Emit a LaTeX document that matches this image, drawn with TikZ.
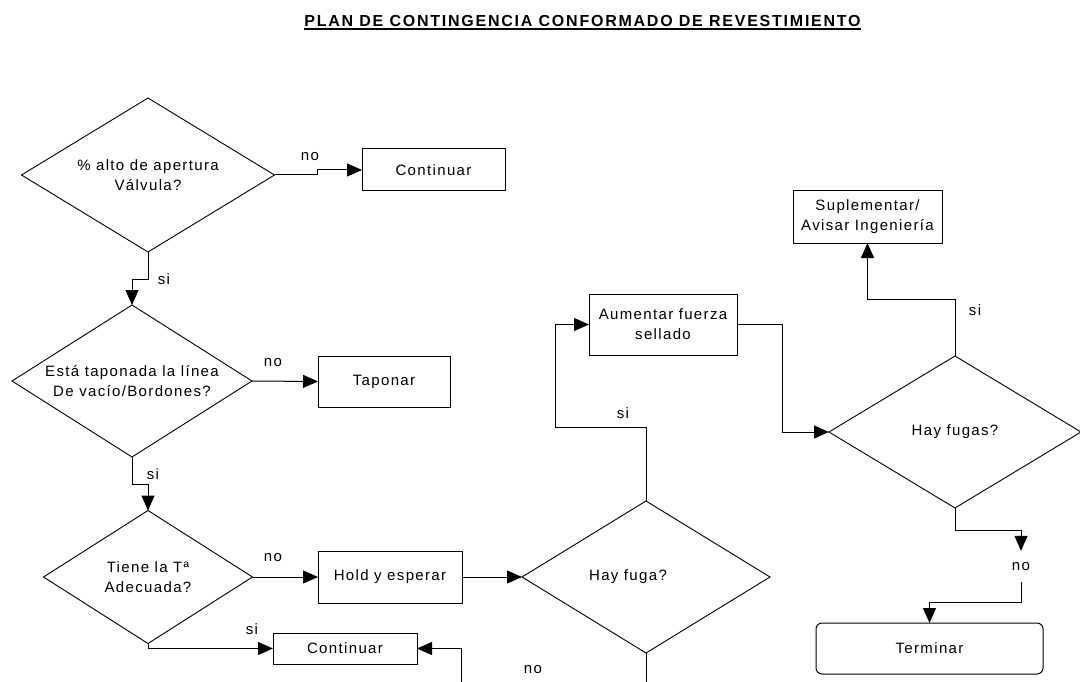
\documentclass[tikz,border=0pt]{standalone}
\usepackage{fontspec}
\setmainfont{Liberation Sans}[LetterSpace=9]
\newfontfamily\titlefont{Liberation Sans}[LetterSpace=11]
\usetikzlibrary{arrows.meta,shapes.geometric}
% zero-width centred line, so the diamond size is set only by its minimum width/height
\newcommand\zw[1]{\makebox[0pt]{#1}}
% heavy underline for the heading
\newcommand\titleul[1]{\setbox0\hbox{#1}\rlap{\rule[-3.5pt]{\wd0}{2pt}}\box0}

\begin{document}
\begin{tikzpicture}[x=1pt,y=-1pt,
  every node/.style={font=\fontsize{15}{20}\selectfont, text=black},
  line/.style={draw=black, line width=1pt},
  flow/.style={line, -{Triangle[length=15pt,width=13pt]}},
  decision/.style={diamond, draw, line width=0.9pt, inner sep=0pt, outer sep=0pt, align=center},
  stepbox/.style={rectangle, draw, line width=1pt, inner sep=0pt, outer sep=0pt, align=center},
  endbox/.style={stepbox, rounded corners=6pt},
  tag/.style={inner sep=0pt}
]
\path[use as bounding box, fill=white] (0,0) rectangle (1080,682);

% heading
\node[anchor=base, inner sep=0pt] (title) at (582.5,27)
  {\titlefont\fontsize{16}{18}\selectfont\bfseries\titleul{PLAN DE CONTINGENCIA CONFORMADO DE REVESTIMIENTO}};

% decisions
\node[decision, minimum width=253pt, minimum height=154pt] (d1) at (148,175)
  {\zw{\% alto de apertura}\\\zw{Válvula?}};
\node[decision, minimum width=240pt, minimum height=152pt] (d2) at (132,381)
  {\zw{Está taponada la línea}\\\zw{De vacío/Bordones?}};
\node[decision, minimum width=209pt, minimum height=133pt] (d3) at (148,577)
  {\zw{Tiene la Tª}\\\zw{Adecuada?}};
\node[decision, minimum width=248pt, minimum height=152pt] (hf) at (646,577)
  {\zw{Hay fuga?\hspace{36pt}}};
\node[decision, minimum width=252pt, minimum height=152pt] (hfs) at (955,432)
  {\zw{Hay fugas?}};

% actions
\node[stepbox, minimum width=143pt, minimum height=42pt] (cont1) at (433.5,170) {Continuar};
\node[stepbox, minimum width=132pt, minimum height=51pt] (tap) at (384,381.5) {Taponar};
\node[stepbox, minimum width=144pt, minimum height=52pt] (hold) at (390,577) {Hold y esperar};
\node[stepbox, minimum width=144pt, minimum height=31pt] (cont2) at (345,648.5) {Continuar};
\node[stepbox, minimum width=148pt, minimum height=61pt] (aum) at (663,324.5) {Aumentar fuerza\\sellado};
\node[stepbox, minimum width=149pt, minimum height=52pt] (sup) at (867.5,217) {Suplementar/\\Avisar Ingeniería};
\node[endbox, minimum width=227pt, minimum height=51pt] (term) at (929.5,648.5) {Terminar};

% branch labels
\node[tag] (no1) at (310,157) {no};
\node[tag] (si1) at (164,279) {si};
\node[tag] (no2) at (273,363) {no};
\node[tag] (si2) at (153,474) {si};
\node[tag] (no3) at (273,558) {no};
\node[tag] (si3) at (252,629) {si};
\node[tag] (si4) at (623,413) {si};
\node[tag] (si5) at (975,310) {si};
\node[tag] (no4) at (533,670) {no};
\node[tag, minimum height=31pt] (no5) at (1021,566.5) {no};

% connectors
\draw[flow] (d1.east) -- ++(43,0) |- (cont1.west);
\draw[flow] (d1.south) -- ++(0,27) -| (d2.north);
\draw[flow] (d2.east) -- (tap.west);
\draw[flow] (d2.south) -- ++(0,27) -| (d3.north);
\draw[flow] (d3.east) -- (hold.west);
\draw[flow] (d3.south) |- (cont2.west);
\draw[flow] (hold.east) -- (hf.west);
\coordinate (k1) at (555,427);
\draw[flow] (hf.north) |- (k1) |- (aum.west);
\draw[flow] (aum.east) -- ++(45,0) |- (hfs.west);
\draw[flow] (hfs.north) -- ++(0,-57) -| (sup.south);
\draw[flow] (hfs.south) -- ++(0,22) -| (no5.north);
\draw[flow] (no5.south) -- ++(0,20) -| (term.north);
\coordinate (b1) at (646,695);
\coordinate (b2) at (461,695);
\draw[line] (hf.south) -- (b1);
\draw[flow] (b2) |- (cont2.east);
\end{tikzpicture}
\end{document}
